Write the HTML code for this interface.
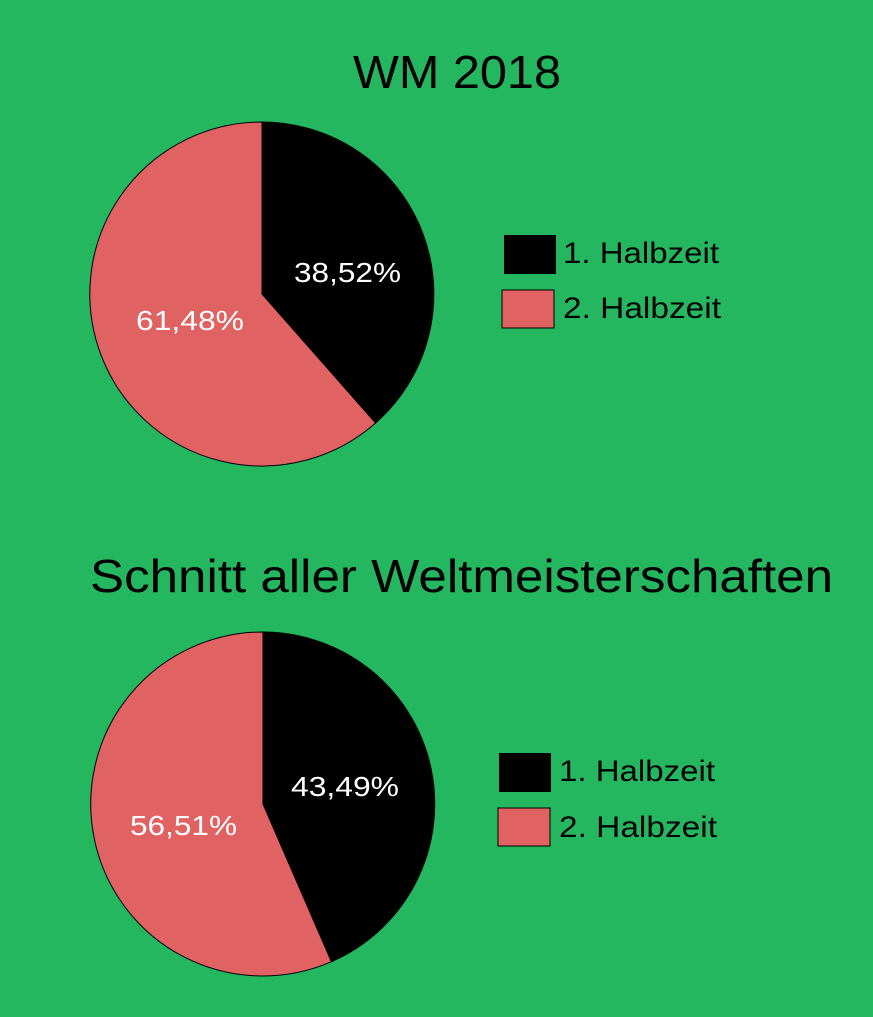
<!DOCTYPE html>
<html><head><meta charset="utf-8"><style>html,body{margin:0;padding:0;background:#25b660}</style></head><body>
<svg width="873" height="1012" viewBox="0 0 873 1012" xmlns="http://www.w3.org/2000/svg" font-family="'Liberation Sans', 'DejaVu Sans', sans-serif">
<rect width="873" height="1012" fill="#25b660"/>
<text x="457" y="88" font-size="46" text-anchor="middle" fill="#000" textLength="208" lengthAdjust="spacingAndGlyphs">WM 2018</text>
<path d="M262,294 L262,122 A172,172 0 0 1 375.6,423 Z" fill="#000" stroke="#000" stroke-width="1"/>
<path d="M262,294 L375.6,423 A172,172 0 1 1 262,122 Z" fill="#e06262" stroke="#000" stroke-width="1"/>
<text x="294" y="282" font-size="28" fill="#fff" textLength="107" lengthAdjust="spacingAndGlyphs">38,52%</text>
<text x="136" y="330" font-size="28" fill="#fff" textLength="108" lengthAdjust="spacingAndGlyphs">61,48%</text>
<rect x="504" y="235" width="52" height="39" fill="#000"/>
<rect x="502" y="290" width="52" height="38" fill="#e06262" stroke="#000" stroke-width="1"/>
<text x="563" y="263" font-size="30" fill="#000" textLength="156" lengthAdjust="spacingAndGlyphs">1. Halbzeit</text>
<text x="563" y="318" font-size="30" fill="#000" textLength="158" lengthAdjust="spacingAndGlyphs">2. Halbzeit</text>

<text x="90" y="592" font-size="46" fill="#000" textLength="743" lengthAdjust="spacingAndGlyphs">Schnitt aller Weltmeisterschaften</text>
<path d="M263,804 L263,632 A172,172 0 0 1 331.4,961.7 Z" fill="#000" stroke="#000" stroke-width="1"/>
<path d="M263,804 L331.4,961.7 A172,172 0 1 1 263,632 Z" fill="#e06262" stroke="#000" stroke-width="1"/>
<text x="291" y="796" font-size="28" fill="#fff" textLength="108" lengthAdjust="spacingAndGlyphs">43,49%</text>
<text x="130" y="835" font-size="28" fill="#fff" textLength="107" lengthAdjust="spacingAndGlyphs">56,51%</text>
<rect x="499" y="753" width="52" height="39" fill="#000"/>
<rect x="498" y="808" width="52" height="38" fill="#e06262" stroke="#000" stroke-width="1"/>
<text x="559" y="781" font-size="30" fill="#000" textLength="156" lengthAdjust="spacingAndGlyphs">1. Halbzeit</text>
<text x="559" y="837" font-size="30" fill="#000" textLength="158" lengthAdjust="spacingAndGlyphs">2. Halbzeit</text>
</svg>
</body></html>
